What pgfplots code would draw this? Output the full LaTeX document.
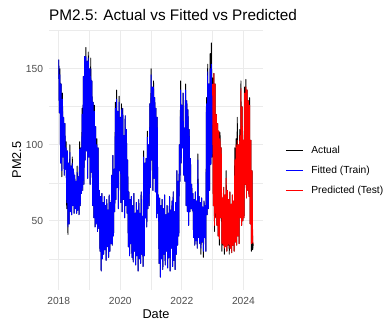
\documentclass[border=0pt]{standalone}
\usepackage{pgfplots}
\pgfplotsset{compat=1.18}
\usepackage{pgfplotstable}
\usepackage{fontspec}
\setmainfont{Liberation Sans}
\definecolor{gridgray}{HTML}{EBEBEB}
\definecolor{ticktext}{HTML}{4D4D4D}
\pgfplotstableread{
t a m
2018.00 156 156
2018.02 121 121
2018.04 150 146
2018.06 88 88
2018.08 140 140
2018.10 79 83
2018.12 134 130
2018.14 92 92
2018.16 118 118
2018.18 80 80
2018.20 114 114
2018.22 84 84
2018.24 102 98
2018.26 58 62
2018.28 96 96
2018.30 41 46
2018.32 88 88
2018.34 48 48
2018.36 100 95
2018.38 56 56
2018.40 86 86
2018.42 54 54
2018.44 92 88
2018.46 60 60
2018.48 84 84
2018.50 55 55
2018.52 80 80
2018.54 58 58
2018.56 76 76
2018.58 55 55
2018.60 86 82
2018.62 57 57
2018.64 79 79
2018.66 54 54
2018.68 102 97
2018.70 60 60
2018.72 98 98
2018.74 68 68
2018.76 124 120
2018.78 70 70
2018.80 145 145
2018.82 74 74
2018.84 158 158
2018.86 90 90
2018.88 164 158
2018.90 96 96
2018.92 155 155
2018.94 78 78
2018.96 161 157
2018.98 92 92
2019.00 150 150
2019.02 74 74
2019.04 157 150
2019.06 82 82
2019.08 142 142
2019.10 60 60
2019.12 128 128
2019.14 52 52
2019.16 126 122
2019.18 46 46
2019.20 112 112
2019.22 48 48
2019.24 104 100
2019.26 43 43
2019.28 98 98
2019.30 45 45
2019.32 70 70
2019.34 30 30
2019.36 66 66
2019.38 17 17
2019.40 68 68
2019.42 25 25
2019.44 62 62
2019.46 28 28
2019.48 66 66
2019.50 31 31
2019.52 60 60
2019.54 24 24
2019.56 64 64
2019.58 33 33
2019.60 57 57
2019.62 26 26
2019.64 67 67
2019.66 30 30
2019.68 62 62
2019.70 35 35
2019.72 80 80
2019.74 34 34
2019.76 93 93
2019.78 40 40
2019.80 84 84
2019.82 56 56
2019.84 128 124
2019.86 64 64
2019.88 136 130
2019.90 72 72
2019.92 122 122
2019.94 58 58
2019.96 132 128
2019.98 83 83
2020.00 118 118
2020.02 62 62
2020.04 127 123
2020.06 56 56
2020.08 124 124
2020.10 64 64
2020.12 106 106
2020.14 52 52
2020.16 119 119
2020.18 60 60
2020.20 110 110
2020.22 55 55
2020.24 90 90
2020.26 33 33
2020.28 69 69
2020.30 27 27
2020.32 64 64
2020.34 35 35
2020.36 66 66
2020.38 26 26
2020.40 60 60
2020.42 23 23
2020.44 68 68
2020.46 30 30
2020.48 55 55
2020.50 21 21
2020.52 62 62
2020.54 27 27
2020.56 57 57
2020.58 17 17
2020.60 64 64
2020.62 25 25
2020.64 55 55
2020.66 22 22
2020.68 69 69
2020.70 28 28
2020.72 53 53
2020.74 20 20
2020.76 96 92
2020.78 27 27
2020.80 88 88
2020.82 52 52
2020.84 91 91
2020.86 46 46
2020.88 109 105
2020.90 58 58
2020.92 100 100
2020.94 60 60
2020.96 127 127
2020.98 72 72
2021.00 150 146
2021.02 90 90
2021.04 138 138
2021.06 70 70
2021.08 142 138
2021.10 78 78
2021.12 131 131
2021.14 69 69
2021.16 124 124
2021.18 52 52
2021.20 118 118
2021.22 55 55
2021.24 67 67
2021.26 22 22
2021.28 65 65
2021.30 13 13
2021.32 60 60
2021.34 25 25
2021.36 64 64
2021.38 18 18
2021.40 58 58
2021.42 28 28
2021.44 67 67
2021.46 21 21
2021.48 54 54
2021.50 30 30
2021.52 60 60
2021.54 19 19
2021.56 55 55
2021.58 26 26
2021.60 66 66
2021.62 17 17
2021.64 57 57
2021.66 32 32
2021.68 63 63
2021.70 20 20
2021.72 69 69
2021.74 24 24
2021.76 56 56
2021.78 18 18
2021.80 62 62
2021.82 28 28
2021.84 83 83
2021.86 34 34
2021.88 76 76
2021.90 40 40
2021.92 100 100
2021.94 76 76
2021.96 142 136
2021.98 88 88
2022.00 126 126
2022.02 98 98
2022.04 134 134
2022.06 80 80
2022.08 111 111
2022.10 76 76
2022.12 140 136
2022.14 60 60
2022.16 129 129
2022.18 56 56
2022.20 123 123
2022.22 47 47
2022.24 110 110
2022.26 56 56
2022.28 91 91
2022.30 58 58
2022.32 74 74
2022.34 57 57
2022.36 68 68
2022.38 39 39
2022.40 64 64
2022.42 34 34
2022.44 69 69
2022.46 37 37
2022.48 63 63
2022.50 32 32
2022.52 94 90
2022.54 39 39
2022.56 66 66
2022.58 35 35
2022.60 62 62
2022.62 28 32
2022.64 65 65
2022.66 36 36
2022.68 59 59
2022.70 26 30
2022.72 63 63
2022.74 39 39
2022.76 60 60
2022.78 30 30
2022.80 131 127
2022.82 54 54
2022.84 153 148
2022.86 58 58
2022.88 140 140
2022.90 70 70
2022.92 160 150
2022.94 87 87
2022.96 167 153
2022.98 92 92
2023.00 144 140
2023.02 60 60
2023.04 147 147
2023.06 43 47
2023.08 140 140
2023.10 52 52
2023.12 120 120
2023.14 47 47
2023.16 114 114
2023.18 40 40
2023.20 109 109
2023.22 34 38
2023.24 108 104
2023.26 52 52
2023.28 98 98
2023.30 30 35
2023.32 65 65
2023.34 34 34
2023.36 72 72
2023.38 28 32
2023.40 67 67
2023.42 33 33
2023.44 83 78
2023.46 30 30
2023.48 70 70
2023.50 34 34
2023.52 64 64
2023.54 28 32
2023.56 69 69
2023.58 32 32
2023.60 61 61
2023.62 29 29
2023.64 67 67
2023.66 34 34
2023.68 63 63
2023.70 30 30
2023.72 98 90
2023.74 36 36
2023.76 104 100
2023.78 34 34
2023.80 118 103
2023.82 40 40
2023.84 100 100
2023.86 35 35
2023.88 110 106
2023.90 52 52
2023.92 142 137
2023.94 47 47
2023.96 125 125
2023.98 50 50
2024.00 103 103
2024.02 52 52
2024.04 138 134
2024.06 74 74
2024.08 143 138
2024.10 65 65
2024.12 136 136
2024.14 70 70
2024.16 129 129
2024.18 66 66
2024.20 131 126
2024.22 48 48
2024.24 103 103
2024.26 30 35
2024.28 83 83
2024.30 31 36
2024.32 35 35
}\pmdata
\begin{document}
\begin{tikzpicture}
\path[use as bounding box] (0,0) rectangle (386bp,322bp);
\begin{axis}[
  at={(49bp,32bp)}, anchor=south west,
  scale only axis, width=214bp, height=260bp,
  xmin=2017.684, xmax=2024.636, ymin=4.5, ymax=175.5,
  axis x line*=bottom, axis y line*=left,
  axis line style={draw=none},
  major tick length=0pt, minor tick length=0pt,
  xtick={2018,2020,2022,2024}, xticklabels={2018,2020,2022,2024},
  minor xtick={2019,2021,2023},
  ytick={50,100,150}, minor ytick={25,75,125,175},
  grid=both,
  major grid style={gridgray, line width=1.1bp},
  minor grid style={gridgray, line width=0.6bp},
  /pgf/number format/assume math mode=true,
  ticklabel style={font=\fontsize{10.3}{12}\selectfont, text=ticktext, inner sep=0pt},
  xticklabel style={anchor=base, yshift=-14bp},
  yticklabel style={anchor=east, xshift=-5.7bp},
  every axis title/.style={at={(axis description cs:0,1.0358)}, anchor=base west, inner sep=0pt, font=\fontsize{15.4}{18}\selectfont},
  title={PM2.5: Actual vs Fitted vs Predicted},
  every axis x label/.style={at={(axis description cs:0.5,-0.1088)}, anchor=base, inner sep=0pt, font=\fontsize{12.8}{15}\selectfont},
  every axis y label/.style={at={(axis description cs:-0.1308,0.5)}, rotate=90, anchor=base, inner sep=0pt, font=\fontsize{12.8}{15}\selectfont},
  xlabel={Date}, ylabel={PM2.5},
  legend cell align=left,
  legend style={at={(axis description cs:1.103,0.4604)}, anchor=west, draw=none, fill=none, inner sep=0pt, column sep=8bp, row sep=10bp, font=\fontsize{10.3}{12}\selectfont, nodes={inner sep=0pt, text height=8bp, text depth=2bp}},
  legend image code/.code={\draw[#1, line width=1.1bp] (0bp,0bp) -- (17bp,0bp);},
]
\addplot[black, line width=0.9bp, line join=round] table[x=t, y=a] {\pmdata};
\addlegendentry{Actual}
\addplot[blue, line width=0.9bp, line join=round, restrict x to domain=2017:2022.99] table[x=t, y=m] {\pmdata};
\addlegendentry{Fitted (Train)}
\addplot[red, line width=0.9bp, line join=round, restrict x to domain=2022.99:2025] table[x=t, y=m] {\pmdata};
\addlegendentry{Predicted (Test)}
\end{axis}
\end{tikzpicture}
\end{document}
